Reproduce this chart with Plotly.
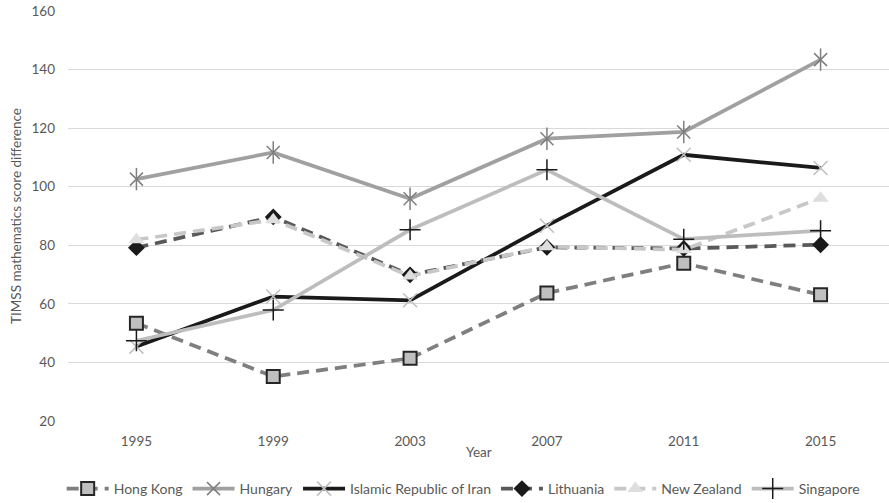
import plotly.graph_objects as go

years = ["1995", "1999", "2003", "2007", "2011", "2015"]
hong_kong = [53.4, 35.2, 41.4, 63.7, 73.9, 63.1]
hungary = [102.6, 111.7, 95.9, 116.4, 118.7, 143.4]
iran = [45.4, 62.5, 61.2, 86.7, 110.9, 106.4]
lithuania = [79.2, 89.7, 69.9, 79.3, 78.9, 80.2]
new_zealand = [81.9, 88.7, 69.5, 79.5, 78.5, 96.1]
singapore = [47.4, 57.9, 85.3, 105.8, 82.1, 85.0]

FONT = "Lato, 'Open Sans', sans-serif"
TXT = "#595959"
DASH = "12px,7px"

fig = go.Figure()

fig.add_trace(go.Scatter(
    x=years, y=hong_kong, name="Hong Kong", mode="lines+markers",
    line=dict(color="#7f7f7f", width=3.75, dash=DASH),
    marker=dict(symbol="square", size=13, color="#bfbfbf", line=dict(color="#262626", width=2)),
))
fig.add_trace(go.Scatter(
    x=years, y=hungary, name="Hungary", mode="lines+markers",
    line=dict(color="#a0a0a0", width=3.75),
    marker=dict(symbol="x-thin-open", size=13, color="#7f7f7f", line=dict(color="#7f7f7f", width=1.5)),
    legendgroup="hu",
))
fig.add_trace(go.Scatter(
    x=years, y=hungary, name="Hungary", mode="markers", showlegend=False,
    marker=dict(symbol="line-ns-open", size=16, color="#7f7f7f", line=dict(color="#7f7f7f", width=1.5)),
    legendgroup="hu", hoverinfo="skip",
))
fig.add_trace(go.Scatter(
    x=years, y=iran, name="Islamic Republic of Iran", mode="lines+markers",
    line=dict(color="#1a1a1a", width=3.75),
    marker=dict(symbol="x-thin-open", size=14, color="#bfbfbf", line=dict(color="#bfbfbf", width=1.5)),
))
fig.add_trace(go.Scatter(
    x=years, y=lithuania, name="Lithuania", mode="lines+markers",
    line=dict(color="#595959", width=3.75, dash=DASH),
    marker=dict(symbol="diamond", size=13, color="#1a1a1a", line=dict(color="#1a1a1a", width=0)),
))
fig.add_trace(go.Scatter(
    x=years, y=new_zealand, name="New Zealand", mode="lines+markers",
    line=dict(color="#c8c8c8", width=3.75, dash=DASH),
    marker=dict(symbol="triangle-up", size=14, color="#dedede", line=dict(color="#dedede", width=0)),
))
fig.add_trace(go.Scatter(
    x=years, y=singapore, name="Singapore", mode="lines+markers",
    line=dict(color="#bdbdbd", width=3.75),
    marker=dict(symbol="cross-thin-open", size=15, color="#1a1a1a", line=dict(color="#1a1a1a", width=1.5)),
))

fig.update_layout(
    width=889, height=503,
    margin=dict(l=68, r=0, t=11, b=82, autoexpand=False),
    paper_bgcolor="white", plot_bgcolor="white",
    font=dict(family=FONT, size=13.5, color=TXT),
    showlegend=True,
    legend=dict(orientation="h", xref="container", yref="container",
                x=0.521, xanchor="center", y=(503 - 489) / 503, yanchor="middle",
                bgcolor="rgba(0,0,0,0)",
                font=dict(size=14, color=TXT), tracegroupgap=0, itemwidth=42),
    xaxis=dict(type="category", range=[-0.5, 5.5], showgrid=False, showline=False,
               zeroline=False, ticks="", ticklabelstandoff=10, tickfont=dict(size=13.5, color=TXT)),
    yaxis=dict(range=[20, 160], dtick=20, showgrid=True, gridcolor="#d9d9d9", gridwidth=1,
               zeroline=False, showline=False, ticks="", ticklabelstandoff=12,
               tickfont=dict(size=13.5, color=TXT),
               title=dict(text="TIMSS mathematics score difference", font=dict(size=13.5, color=TXT), standoff=6)),
    annotations=[dict(text="Year", xref="paper", yref="paper", x=0.5, y=-31 / 410,
                      xanchor="center", yanchor="middle", showarrow=False,
                      font=dict(size=13.5, color=TXT))],
)

fig.write_html("out.html", config={"displayModeBar": False},
               post_script="document.body.style.margin='0';")
